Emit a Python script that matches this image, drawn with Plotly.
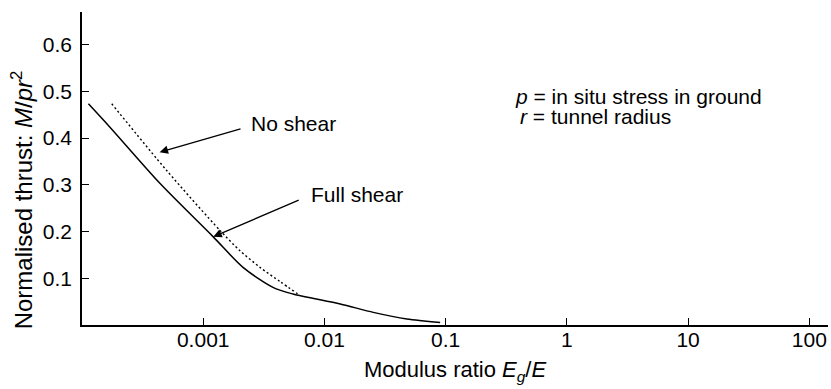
import plotly.graph_objects as go

# Full shear (solid) curve
full_x = [1.13e-4, 1.70e-4, 4.41e-4, 1.205e-3, 2.13e-3, 3.76e-3, 5.5e-3,
          1.35e-2, 2.53e-2, 4.78e-2, 9.0e-2]
full_y = [0.4735, 0.4234, 0.3028, 0.1892, 0.1234, 0.0806, 0.0664,
          0.045, 0.027, 0.0129, 0.0056]

# No shear (dotted) curve
no_x = [1.76e-4, 5.0e-4, 1.38e-3, 2.01e-3, 2.94e-3, 4.3e-3, 6.0e-3]
no_y = [0.4735, 0.3306, 0.202, 0.159, 0.1234, 0.093, 0.0668]

x_ticks = [0.001, 0.01, 0.1, 1, 10, 100]
x_ticklabels = ["0.001", "0.01", "0.1", "1", "10", "100"]
y_ticks = [0.1, 0.2, 0.3, 0.4, 0.5, 0.6]
y_ticklabels = ["0.1", "0.2", "0.3", "0.4", "0.5", "0.6"]

FONT = "Liberation Sans, Arial, Helvetica, sans-serif"
FS = 21

fig = go.Figure()
fig.add_trace(go.Scatter(x=full_x, y=full_y, mode="lines",
                         line=dict(color="black", width=1.5, shape="spline", smoothing=0.8),
                         showlegend=False, hoverinfo="skip"))
fig.add_trace(go.Scatter(x=no_x, y=no_y, mode="lines",
                         line=dict(color="black", width=1.4, dash="2px,2.5px", shape="spline", smoothing=0.8),
                         showlegend=False, hoverinfo="skip"))

anns = []
# Arrows
anns.append(dict(x=-3.36, y=0.37, ax=-2.68, ay=0.421, xref="x", yref="y", axref="x", ayref="y",
                 text="", showarrow=True, arrowhead=2, arrowsize=1.3, arrowwidth=1.3, arrowcolor="black",
                 standoff=0, startstandoff=0))
anns.append(dict(x=-2.917, y=0.189, ax=-2.20, ay=0.2685, xref="x", yref="y", axref="x", ayref="y",
                 text="", showarrow=True, arrowhead=2, arrowsize=1.3, arrowwidth=1.3, arrowcolor="black",
                 standoff=0, startstandoff=0))
anns.append(dict(x=-2.62, y=0.432, xref="x", yref="y", text="No shear", showarrow=False,
                 xanchor="left", yanchor="middle", font=dict(family=FONT, size=FS, color="black")))
anns.append(dict(x=-2.125, y=0.279, xref="x", yref="y", text="Full shear", showarrow=False,
                 xanchor="left", yanchor="middle", font=dict(family=FONT, size=FS, color="black")))
anns.append(dict(x=-0.435, y=0.489, xref="x", yref="y", text="<i>p</i> = in situ stress in ground", showarrow=False,
                 xanchor="left", yanchor="middle", borderpad=0, font=dict(family=FONT, size=FS, color="black")))
anns.append(dict(x=-0.394, y=0.447, xref="x", yref="y", text="<i>r</i> = tunnel radius", showarrow=False,
                 xanchor="left", yanchor="middle", borderpad=0, font=dict(family=FONT, size=FS, color="black")))
# Y-axis title (placed to match the reference's lower centring)
anns.append(dict(x=-0.081, y=0.40, xref="paper", yref="paper", textangle=-90,
                 text="Normalised thrust: <i>M</i>/<i>pr</i><sup>2</sup>", showarrow=False,
                 xanchor="center", yanchor="middle", font=dict(family=FONT, size=24, color="black")))

fig.update_layout(
    width=831, height=389,
    margin=dict(l=82, r=3, t=12, b=64),
    paper_bgcolor="white", plot_bgcolor="white",
    font=dict(family=FONT, size=FS, color="black"),
    annotations=anns,
    xaxis=dict(type="log", range=[-4, 2.154], tickvals=x_ticks, ticktext=x_ticklabels,
               ticks="inside", ticklen=7, tickwidth=1.3, tickcolor="black",
               tickfont=dict(family=FONT, size=FS, color="black"),
               showline=True, linecolor="black", linewidth=1.5, showgrid=False, zeroline=False,
               title=dict(text="Modulus ratio <i>E<sub>g</sub></i>/<i>E</i>", standoff=12,
                          font=dict(family=FONT, size=22, color="black")),
               ticklabelstandoff=-5),
    yaxis=dict(range=[0, 0.67], tickvals=y_ticks, ticktext=y_ticklabels,
               ticks="inside", ticklen=7, tickwidth=1.3, tickcolor="black",
               tickfont=dict(family=FONT, size=FS, color="black"),
               showline=True, linecolor="black", linewidth=1.5, showgrid=False, zeroline=False,
               ticklabelstandoff=4),
)

fig.write_html("out.html")
